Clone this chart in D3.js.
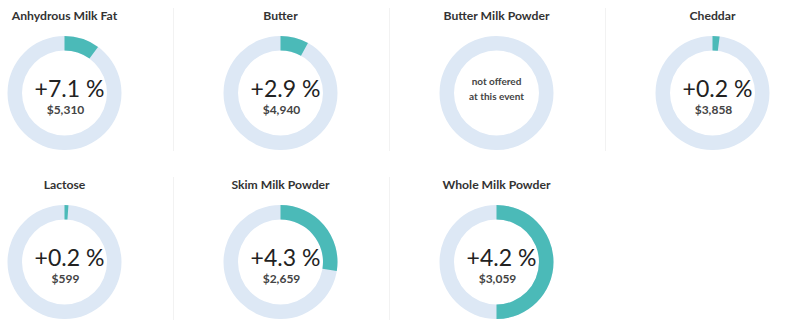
<!DOCTYPE html>
<html>
<head>
<meta charset="utf-8">
<script src="https://cdn.jsdelivr.net/npm/d3@7"></script>
<style>
  html, body { margin: 0; padding: 0; background: #fff; }
  svg { display: block; }
</style>
</head>
<body>
<svg id="chart" width="800" height="329"></svg>
<script>
const products = ["Anhydrous Milk Fat", "Butter", "Butter Milk Powder", "Cheddar", "Lactose", "Skim Milk Powder", "Whole Milk Powder"];
const changes = ["+7.1 %", "+2.9 %", null, "+0.2 %", "+0.2 %", "+4.3 %", "+4.2 %"];
const prices = ["$5,310", "$4,940", null, "$3,858", "$599", "$2,659", "$3,059"];
const shares = [0.10, 0.08, 0, 0.02, 0.011, 0.275, 0.5];
const notOfferedLines = ["not offered", "at this event"];

const svg = d3.select("#chart");
const cols = 4;
const colX = d3.scaleLinear().domain([0, 1]).range([64.5, 280.5]);
const rowY = d3.scaleLinear().domain([0, 1]).range([93, 262]);
const outerR = 57, innerR = 42.5;
const teal = "#4bbab8", track = "#dde8f5";
const font = "Lato, 'Open Sans', sans-serif";

// dividers
[0, 1].forEach(r => {
  const n = r === 0 ? 3 : 2;
  for (let c = 0; c < n; c++) {
    const x = Math.round(colX(c) + 108.5) + 0.5;
    svg.append("line")
      .attr("x1", x).attr("x2", x)
      .attr("y1", rowY(r) - 85).attr("y2", rowY(r) + 58)
      .attr("stroke", "#f2f2f2").attr("stroke-width", 1);
  }
});

const arc = d3.arc().innerRadius(innerR).outerRadius(outerR);

products.forEach((name, i) => {
  const c = i % cols, r = Math.floor(i / cols);
  const g = svg.append("g").attr("transform", `translate(${colX(c)},${rowY(r)})`);

  g.append("text")
    .attr("x", 0).attr("y", -73)
    .attr("text-anchor", "middle")
    .attr("font-family", font).attr("font-weight", 700)
    .attr("font-size", 12.2).attr("fill", "#333")
    .text(name);

  g.append("path")
    .attr("d", arc({ startAngle: 0, endAngle: 2 * Math.PI }))
    .attr("fill", track);

  if (shares[i] > 0) {
    g.append("path")
      .attr("d", arc({ startAngle: 0, endAngle: 2 * Math.PI * shares[i] }))
      .attr("fill", teal);
  }

  if (changes[i] === null) {
    notOfferedLines.forEach((t, k) => {
      g.append("text")
        .attr("x", 0).attr("y", -8 + k * 15)
        .attr("text-anchor", "middle")
        .attr("font-family", font).attr("font-weight", 700)
        .attr("font-size", 10).attr("fill", "#444")
        .text(t);
    });
  } else {
    g.append("text")
      .attr("x", 5).attr("y", 4)
      .attr("text-anchor", "middle")
      .attr("font-family", font).attr("font-weight", 400)
      .attr("font-size", 23).attr("fill", "#222")
      .text(changes[i]);
    g.append("text")
      .attr("x", 1).attr("y", 21)
      .attr("text-anchor", "middle")
      .attr("font-family", font).attr("font-weight", 700)
      .attr("font-size", 12).attr("fill", "#444")
      .text(prices[i]);
  }
});
</script>
</body>
</html>
